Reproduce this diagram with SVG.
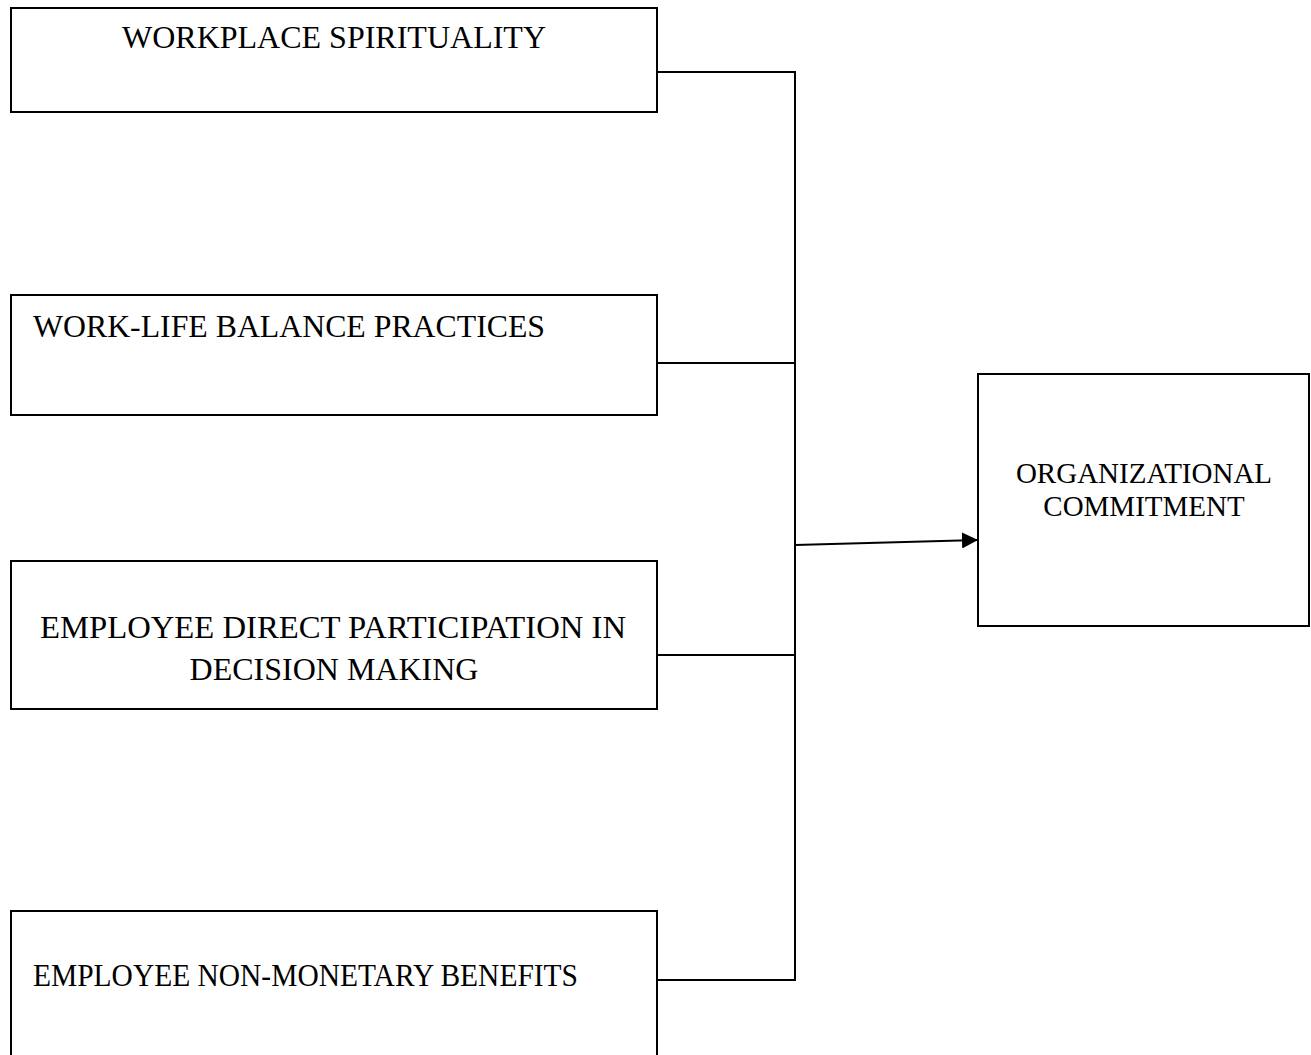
<svg xmlns="http://www.w3.org/2000/svg" width="1311" height="1055" viewBox="0 0 1311 1055">
  <style>
    .box { fill: #ffffff; stroke: #000000; stroke-width: 2; }
    .lbl { font-family: "Liberation Serif", "Times New Roman", serif; font-size: 32px; fill: #000000; }
    .lbl-sm { font-family: "Liberation Serif", "Times New Roman", serif; font-size: 29px; fill: #000000; text-anchor: middle; }
    .wire { fill: none; stroke: #000000; stroke-width: 2; }
  </style>
  <defs>
    <marker id="tip" viewBox="0 0 16 16" refX="16" refY="8" markerWidth="16" markerHeight="16" orient="auto" markerUnits="userSpaceOnUse">
      <path d="M0,0 L16,8 L0,16 z" fill="#000000"/>
    </marker>
  </defs>
  <rect width="1311" height="1055" fill="#ffffff"/>

  <g id="node-workplace-spirituality">
    <rect class="box" x="11" y="8" width="646" height="104"/>
    <text class="lbl" x="334" y="48" text-anchor="middle">WORKPLACE SPIRITUALITY</text>
  </g>

  <g id="node-work-life-balance">
    <rect class="box" x="11" y="295" width="646" height="120"/>
    <text class="lbl" x="33" y="337" textLength="512" lengthAdjust="spacingAndGlyphs">WORK-LIFE BALANCE PRACTICES</text>
  </g>

  <g id="node-direct-participation">
    <rect class="box" x="11" y="561" width="646" height="148"/>
    <text class="lbl" x="40" y="638" textLength="586" lengthAdjust="spacingAndGlyphs">EMPLOYEE DIRECT PARTICIPATION IN</text>
    <text class="lbl" x="334" y="680" text-anchor="middle">DECISION MAKING</text>
  </g>

  <g id="node-non-monetary-benefits">
    <rect class="box" x="11" y="911" width="646" height="160"/>
    <text class="lbl" x="33" y="986" textLength="545" lengthAdjust="spacingAndGlyphs">EMPLOYEE NON-MONETARY BENEFITS</text>
  </g>

  <g id="node-organizational-commitment">
    <rect class="box" x="978" y="374" width="331" height="252"/>
    <text class="lbl-sm" x="1144" y="483">ORGANIZATIONAL</text>
    <text class="lbl-sm" x="1144" y="516">COMMITMENT</text>
  </g>

  <g id="connectors">
    <path class="wire" d="M657,72 H795 V980 H657"/>
    <path class="wire" d="M657,363 H795"/>
    <path class="wire" d="M657,655 H795"/>
    <path class="wire" d="M795,545 L978,540" marker-end="url(#tip)"/>
  </g>
</svg>
